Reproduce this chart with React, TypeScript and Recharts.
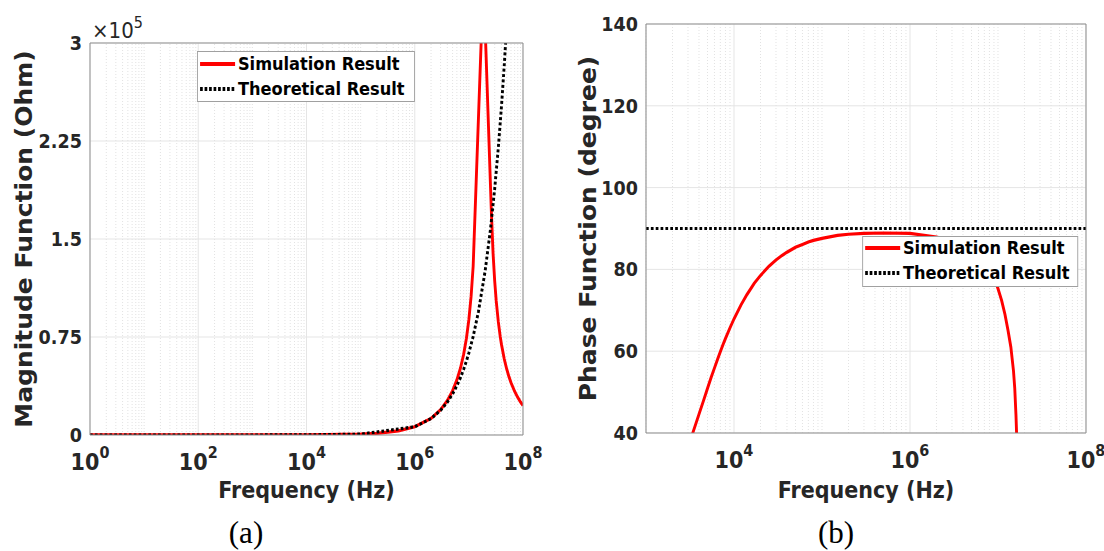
import React from 'react';
import { LineChart, Line, XAxis, YAxis, CartesianGrid, ReferenceLine, Legend } from 'recharts';

// ---------- data ----------
// (a) magnitude, Ohm vs Hz
const magSimFreq = [1, 10, 100, 1e3, 1e4, 1e5, 2e5, 5e5, 1e6, 2e6, 3e6, 4e6, 5e6, 6e6, 7e6, 8e6, 9e6, 1e7, 1.1e7, 1.2e7, 1.86e7, 2.6e7, 2.8e7, 3e7, 3.2e7, 3.5e7, 3.8e7, 4e7, 4.5e7, 5e7, 5.5e7, 6e7, 7e7, 8e7, 9e7, 1e8];
const magSimOhm = [25.5, 25.5, 25.5, 26.3, 67.8, 628, 1257, 3144, 6301, 12713, 19353, 26351, 33862, 42078, 51239, 61673, 73834, 88373, 106280, 129143, 350000, 171300, 138900, 117730, 102600, 86570, 75250, 69350, 58260, 50470, 44630, 40080, 33410, 28730, 25230, 22520];
const magTheoFreq = [1, 10, 100, 1e3, 1e4, 1e5, 1e6, 2e6, 3e6, 4e6, 5e6, 6e6, 7e6, 8e6, 9e6, 1e7, 1.2e7, 1.5e7, 2e7, 2.5e7, 3e7, 3.5e7, 4e7, 4.5e7, 5e7, 6e7, 8e7, 1e8];
const magTheoOhm = [0.006, 0.063, 0.63, 6.3, 63, 628, 6283, 12566, 18850, 25133, 31416, 37699, 43982, 50265, 56549, 62832, 75398, 94248, 125664, 157080, 188496, 219911, 251327, 282743, 314159, 376991, 502655, 628319];

// (b) phase, degree vs Hz
const phaseSimFreq = [3e3, 3.4e3, 3.7e3, 4e3, 4.5e3, 5e3, 5.5e3, 6e3, 6.5e3, 7e3, 7.5e3, 8e3, 9e3, 1e4, 1.2e4, 1.4e4, 1.7e4, 2e4, 2.5e4, 3e4, 3.5e4, 4e4, 5e4, 6e4, 7e4, 8e4, 1e5, 1.5e5, 2e5, 3e5, 5e5, 1e6, 1.74e6, 2e6, 3e6, 4e6, 5e6, 6e6, 7e6, 8e6, 9e6, 1e7, 1.1e7, 1.2e7, 1.3e7, 1.4e7, 1.5e7, 1.55e7, 1.6e7, 1.65e7];
const phaseSimDeg = [36.5, 40.0, 42.4, 44.6, 47.9, 50.9, 53.6, 55.9, 58.0, 59.9, 61.6, 63.1, 65.7, 67.9, 71.3, 73.8, 76.6, 78.5, 80.8, 82.3, 83.4, 84.2, 85.4, 86.1, 86.7, 87.1, 87.6, 88.3, 88.6, 88.8, 88.9, 88.8, 88.1, 87.9, 87.0, 86.1, 85.1, 83.9, 82.4, 80.6, 78.2, 75.3, 72.4, 69.0, 65.1, 61.0, 55.2, 51.0, 44.5, 36];
const phaseTheoFreq = [1e3, 1e4, 1e5, 1e6, 1e7, 1e8];
const phaseTheoDeg = [90, 90, 90, 90, 90, 90];

const seriesNames = ['Simulation Result', 'Theoretical Result'];
const seriesColors = ['#ff0000', '#000000'];

// ticks
const magXTicks = [1, 1e2, 1e4, 1e6, 1e8];
const magYTicks = [0, 75000, 150000, 225000, 300000];
const magYTickLabels = ['0', '0.75', '1.5', '2.25', '3'];
const phaseXTicks = [1e4, 1e6, 1e8];
const phaseYTicks = [40, 60, 80, 100, 120, 140];
const phaseYTickLabels = ['40', '60', '80', '100', '120', '140'];

const captions = ['(a)', '(b)'];
const magYTitle = 'Magnitude Function (Ohm)';
const phaseYTitle = 'Phase Function (degree)';
const xTitle = 'Frequency (Hz)';

function minorTicks(lo: number, hi: number, majors: number[]) {
  const out: number[] = [];
  for (let k = lo; k < hi; k++) {
    for (let m = 1; m <= 9; m++) {
      const v = m * Math.pow(10, k);
      if (!majors.includes(v)) out.push(v);
    }
  }
  return out;
}
const magXMinor = minorTicks(0, 8, magXTicks);
const magXAll = [...magXTicks, ...magXMinor].sort((a, b) => a - b);
const phaseXMinor = minorTicks(3, 8, phaseXTicks);
const phaseXAll = [...phaseXTicks, ...phaseXMinor].sort((a, b) => a - b);

const magSim = magSimFreq.map((f, i) => ({ f, v: magSimOhm[i] }));
const magTheo = magTheoFreq.map((f, i) => ({ f, v: magTheoOhm[i] }));
const phaseSim = phaseSimFreq.map((f, i) => ({ f, v: phaseSimDeg[i] }));
const phaseTheo = phaseTheoFreq.map((f, i) => ({ f, v: phaseTheoDeg[i] }));

// ---------- style ----------
const SX = 0.9; // the reference figure is horizontally compressed
const FONT = '"DejaVu Sans", "Noto Sans", sans-serif';
const TXT = '#262626';
const FRAME = '#8c8c8c';
const GRID = '#e4e4e4';
const MINOR = '#e0e0e0';
const H = 551;

const A_W = 620;
const B_W = 1104 / SX - A_W;

const PowTick = (props: any) => {
  const { x, y, payload } = props;
  const exp = Math.round(Math.log10(payload.value));
  return (
    <text x={x} y={y + 35} textAnchor="middle" fontFamily={FONT} fontWeight="bold" fontSize={23} fill={TXT}>
      10<tspan dy={-12} fontSize={16}>{exp}</tspan>
    </text>
  );
};

const makeXTitle = (baselineFromAxis: number) => (p: any) => {
  const vb = p.viewBox || {};
  const cx = (vb.x ?? 0) + (vb.width ?? 0) / 2;
  const cy = (vb.y ?? 0) + baselineFromAxis;
  return (
    <text x={cx} y={cy} textAnchor="middle" fontFamily={FONT} fontWeight="bold" fontSize={23} fill={TXT}>
      {xTitle}
    </text>
  );
};

const makeYTitle = (text: string, baselineX: number) => (p: any) => {
  const vb = p.viewBox || {};
  const cx = (vb.x ?? 0) + baselineX;
  const cy = (vb.y ?? 0) + (vb.height ?? 0) / 2;
  return (
    <text x={cx} y={cy} transform={`rotate(-90 ${cx} ${cy})`} textAnchor="middle" fontFamily={FONT} fontWeight="bold" fontSize={25} fill={TXT}>
      {text}
    </text>
  );
};

const ExpLabel = (p: any) => {
  const vb = p.viewBox || {};
  const x = (vb.x ?? 0) + 2.2;
  const y = (vb.y ?? 0) - 5;
  return (
    <text x={x} y={y} textAnchor="start" fontFamily={FONT} fontSize={22} fill={TXT}>
      ×10<tspan dy={-10} fontSize={16}>5</tspan>
    </text>
  );
};

const LegendBox = ({ w, h, rows }: { w: number; h: number; rows: number[] }) => (
  <div
    style={{
      position: 'relative',
      width: w,
      height: h,
      boxSizing: 'border-box',
      border: '1px solid #a0a0a0',
      background: '#fff',
      fontFamily: FONT,
      fontWeight: 'bold',
      fontSize: 18,
      color: '#000',
    }}
  >
    {seriesNames.map((name, i) => (
      <div
        key={name}
        style={{ position: 'absolute', left: 0, top: rows[i] - 13, height: 24, display: 'flex', alignItems: 'center', whiteSpace: 'nowrap' }}
      >
        <svg width={44} height={24} style={{ display: 'block' }}>
          <line x1={2.3} x2={41.2} y1={12} y2={12} stroke={seriesColors[i]} strokeWidth={4} strokeDasharray={i === 1 ? '3 2' : undefined} />
        </svg>
        <span style={{ marginLeft: 0.5, lineHeight: '24px' }}>{name}</span>
      </div>
    ))}
  </div>
);

const yTickStyle = { fontSize: 19.5, fontWeight: 'bold', fill: TXT, fontFamily: FONT };

export default function App() {
  return (
    <div style={{ position: 'absolute', left: 0, top: 0, width: 1104, height: H, background: '#fff', overflow: 'hidden' }}>
      <div style={{ position: 'absolute', left: 0, top: 0, width: 1104 / SX, height: H, transform: `scaleX(${SX})`, transformOrigin: '0 0' }}>
        {/* (a) magnitude */}
        <div style={{ position: 'absolute', left: 0, top: 0 }}>
          <LineChart width={A_W} height={H} margin={{ top: 43, right: A_W - 523 / SX, bottom: 0, left: 0 }}>
            <CartesianGrid stroke={GRID} strokeWidth={1} />
            {magXMinor.map((v) => (
              <ReferenceLine key={v} x={v} stroke={MINOR} strokeDasharray="1 2" />
            ))}
            <XAxis
              dataKey="f"
              type="number"
              scale="log"
              domain={[1, 1e8]}
              allowDataOverflow
              ticks={magXTicks}
              interval={0}
              tick={<PowTick />}
              tickLine={false}
              tickSize={0}
              tickMargin={0}
              height={116}
              axisLine={{ stroke: FRAME }}
              label={{ content: makeXTitle(63) }}
            />
            <XAxis xAxisId="bm" dataKey="f" type="number" scale="log" domain={[1, 1e8]} allowDataOverflow ticks={magXAll} interval={0} orientation="bottom" mirror tick={false} tickSize={4} tickLine={{ stroke: FRAME }} axisLine={false} />
            <XAxis xAxisId="tm" dataKey="f" type="number" scale="log" domain={[1, 1e8]} allowDataOverflow ticks={magXAll} interval={0} orientation="top" mirror tick={false} tickSize={4} tickLine={{ stroke: FRAME }} axisLine={{ stroke: FRAME }} label={{ content: ExpLabel }} />
            <YAxis
              type="number"
              domain={[0, 300000]}
              allowDataOverflow
              ticks={magYTicks}
              interval={0}
              tickFormatter={(v: number) => magYTickLabels[magYTicks.indexOf(v)] ?? ''}
              tick={yTickStyle}
              tickLine={false}
              tickSize={0}
              tickMargin={9}
              width={90 / SX}
              axisLine={{ stroke: FRAME }}
              label={{ content: makeYTitle(magYTitle, 32 / SX) }}
            />
            <YAxis yAxisId="lm" type="number" domain={[0, 300000]} allowDataOverflow ticks={magYTicks} interval={0} orientation="left" mirror tick={false} tickSize={5} tickLine={{ stroke: FRAME }} axisLine={false} />
            <YAxis yAxisId="rm" type="number" domain={[0, 300000]} allowDataOverflow ticks={magYTicks} interval={0} orientation="right" mirror tick={false} tickSize={5} tickLine={{ stroke: FRAME }} axisLine={{ stroke: FRAME }} />
            <Line data={magSim} dataKey="v" name={seriesNames[0]} type="linear" stroke={seriesColors[0]} strokeWidth={3.2} dot={false} activeDot={false} isAnimationActive={false} />
            <Line data={magTheo} dataKey="v" name={seriesNames[1]} type="linear" stroke={seriesColors[1]} strokeWidth={3.2} strokeDasharray="3 2.4" dot={false} activeDot={false} isAnimationActive={false} />
            <Legend
              layout="vertical"
              align="center"
              verticalAlign="middle"
              wrapperStyle={{ left: 197 / SX, top: 51, width: 218 / SX, height: 51 }}
              content={() => <LegendBox w={218 / SX} h={51} rows={[13, 38]} />}
            />
          </LineChart>
        </div>

        {/* (b) phase */}
        <div style={{ position: 'absolute', left: A_W, top: 0 }}>
          <LineChart width={B_W} height={H} margin={{ top: 24, right: B_W - (1086 / SX - A_W), bottom: 0, left: 0 }}>
            <CartesianGrid stroke={GRID} strokeWidth={1} />
            {phaseXMinor.map((v) => (
              <ReferenceLine key={v} x={v} stroke={MINOR} strokeDasharray="1 2" />
            ))}
            <XAxis
              dataKey="f"
              type="number"
              scale="log"
              domain={[1e3, 1e8]}
              allowDataOverflow
              ticks={phaseXTicks}
              interval={0}
              tick={<PowTick />}
              tickLine={false}
              tickSize={0}
              tickMargin={0}
              height={118}
              axisLine={{ stroke: FRAME }}
              label={{ content: makeXTitle(65) }}
            />
            <XAxis xAxisId="bm" dataKey="f" type="number" scale="log" domain={[1e3, 1e8]} allowDataOverflow ticks={phaseXAll} interval={0} orientation="bottom" mirror tick={false} tickSize={4} tickLine={{ stroke: FRAME }} axisLine={false} />
            <XAxis xAxisId="tm" dataKey="f" type="number" scale="log" domain={[1e3, 1e8]} allowDataOverflow ticks={phaseXAll} interval={0} orientation="top" mirror tick={false} tickSize={4} tickLine={{ stroke: FRAME }} axisLine={{ stroke: FRAME }} />
            <YAxis
              type="number"
              domain={[40, 140]}
              allowDataOverflow
              ticks={phaseYTicks}
              interval={0}
              tickFormatter={(v: number) => phaseYTickLabels[phaseYTicks.indexOf(v)] ?? ''}
              tick={yTickStyle}
              tickLine={false}
              tickSize={0}
              tickMargin={9}
              width={646 / SX - A_W}
              axisLine={{ stroke: FRAME }}
              label={{ content: makeYTitle(phaseYTitle, 596 / SX - A_W) }}
            />
            <YAxis yAxisId="lm" type="number" domain={[40, 140]} allowDataOverflow ticks={phaseYTicks} interval={0} orientation="left" mirror tick={false} tickSize={5} tickLine={{ stroke: FRAME }} axisLine={false} />
            <YAxis yAxisId="rm" type="number" domain={[40, 140]} allowDataOverflow ticks={phaseYTicks} interval={0} orientation="right" mirror tick={false} tickSize={5} tickLine={{ stroke: FRAME }} axisLine={{ stroke: FRAME }} />
            <Line data={phaseSim} dataKey="v" name={seriesNames[0]} type="linear" stroke={seriesColors[0]} strokeWidth={3.2} dot={false} activeDot={false} isAnimationActive={false} />
            <Line data={phaseTheo} dataKey="v" name={seriesNames[1]} type="linear" stroke={seriesColors[1]} strokeWidth={3.2} strokeDasharray="3 2.4" dot={false} activeDot={false} isAnimationActive={false} />
            <Legend
              layout="vertical"
              align="center"
              verticalAlign="middle"
              wrapperStyle={{ left: 862 / SX - A_W, top: 236, width: 216 / SX, height: 51 }}
              content={() => <LegendBox w={216 / SX} h={51} rows={[12, 37]} />}
            />
          </LineChart>
        </div>
      </div>

      {/* sub-figure captions */}
      <svg width={1104} height={H} style={{ position: 'absolute', left: 0, top: 0, pointerEvents: 'none' }}>
        <text x={246} y={543} textAnchor="middle" fontFamily='"Liberation Serif", serif' fontSize={31} fill="#000">{captions[0]}</text>
        <text x={836} y={543} textAnchor="middle" fontFamily='"Liberation Serif", serif' fontSize={31} fill="#000">{captions[1]}</text>
      </svg>
    </div>
  );
}
